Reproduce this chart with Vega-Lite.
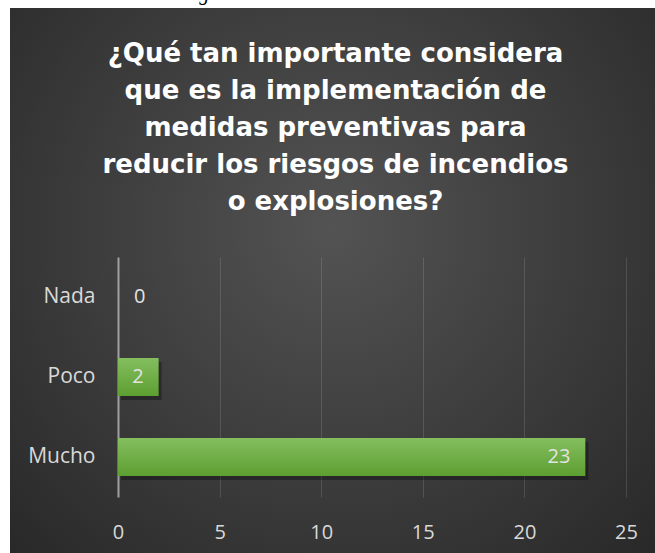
{
  "$schema": "https://vega.github.io/schema/vega-lite/v6.json",
  "autosize": "none",
  "width": 645,
  "height": 545,
  "padding": {"top": 8, "left": 10, "right": 0, "bottom": 0},
  "background": "#ffffff",
  "config": {
    "view": {
      "fill": {
        "gradient": "radial",
        "x1": 0.5, "y1": 0.42, "r1": 0,
        "x2": 0.5, "y2": 0.42, "r2": 0.75,
        "stops": [
          {"offset": 0, "color": "#535353"},
          {"offset": 1, "color": "#262626"}
        ]
      },
      "stroke": null
    }
  },
  "title": {
    "text": [
      "¿Qué tan importante considera",
      "que es la implementación de",
      "medidas preventivas para",
      "reducir los riesgos de incendios",
      "o explosiones?"
    ],
    "anchor": "middle",
    "font": "DejaVu Sans",
    "fontSize": 26,
    "fontWeight": "bold",
    "color": "#ffffff",
    "lineHeight": 37,
    "offset": -231,
    "dx": 3
  },
  "data": {
    "values": [
      {"respuesta": "Nada", "cantidad": 0},
      {"respuesta": "Poco", "cantidad": 2},
      {"respuesta": "Mucho", "cantidad": 23}
    ]
  },
  "encoding": {
    "y": {
      "field": "respuesta",
      "type": "nominal",
      "sort": ["Nada", "Poco", "Mucho"],
      "scale": {"range": [249, 489], "paddingInner": 0.528, "paddingOuter": 0.264},
      "axis": {
        "title": null,
        "orient": "left",
        "offset": -108,
        "domain": false,
        "ticks": false,
        "grid": false,
        "labelPadding": 23,
        "labelFont": "Open Sans",
        "labelFontSize": 21,
        "labelColor": "#d9d9d9"
      }
    },
    "x": {
      "field": "cantidad",
      "type": "quantitative",
      "scale": {"domain": [-5.315, 26.427], "nice": false},
      "axis": {
        "title": "Mitigación de incendios",
        "titleX": 252,
        "titleY": -497.5,
        "titleAlign": "center",
        "titleBaseline": "alphabetic",
        "titleFont": "Liberation Serif",
        "titleFontStyle": "italic",
        "titleFontWeight": "normal",
        "titleFontSize": 20,
        "titleColor": "#000000",
        "orient": "bottom",
        "offset": -56,
        "values": [0, 5, 10, 15, 20, 25],
        "domain": false,
        "grid": false,
        "ticks": true,
        "tickSize": -240,
        "tickColor": {"condition": {"test": "datum.value === 0", "value": "#a0a0a0"}, "value": "rgba(255,255,255,0.13)"},
        "tickWidth": {"condition": {"test": "datum.value === 0", "value": 2}, "value": 1},
        "labelPadding": 265,
        "labelFlush": false,
        "labelFont": "Open Sans",
        "labelFontSize": 20,
        "labelColor": "#d9d9d9"
      }
    }
  },
  "layer": [
    {
      "mark": {"type": "bar", "color": "#000000", "opacity": 0.3, "xOffset": 3, "yOffset": 4}
    },
    {
      "mark": {
        "type": "bar",
        "color": {
          "gradient": "linear",
          "x1": 0, "y1": 0, "x2": 0, "y2": 1,
          "stops": [
            {"offset": 0, "color": "#84be5f"},
            {"offset": 1, "color": "#5d9f31"}
          ]
        }
      }
    },
    {
      "transform": [{"filter": "datum.cantidad > 0"}],
      "mark": {"type": "text", "align": "right", "baseline": "middle", "dx": -15, "font": "Open Sans", "fontSize": 20, "color": "#e3e3e3"},
      "encoding": {"text": {"field": "cantidad", "type": "quantitative"}}
    },
    {
      "transform": [{"filter": "datum.cantidad == 0"}],
      "mark": {"type": "text", "align": "left", "baseline": "middle", "dx": 16, "font": "Open Sans", "fontSize": 20, "color": "#e3e3e3"},
      "encoding": {"text": {"field": "cantidad", "type": "quantitative"}}
    }
  ]
}
